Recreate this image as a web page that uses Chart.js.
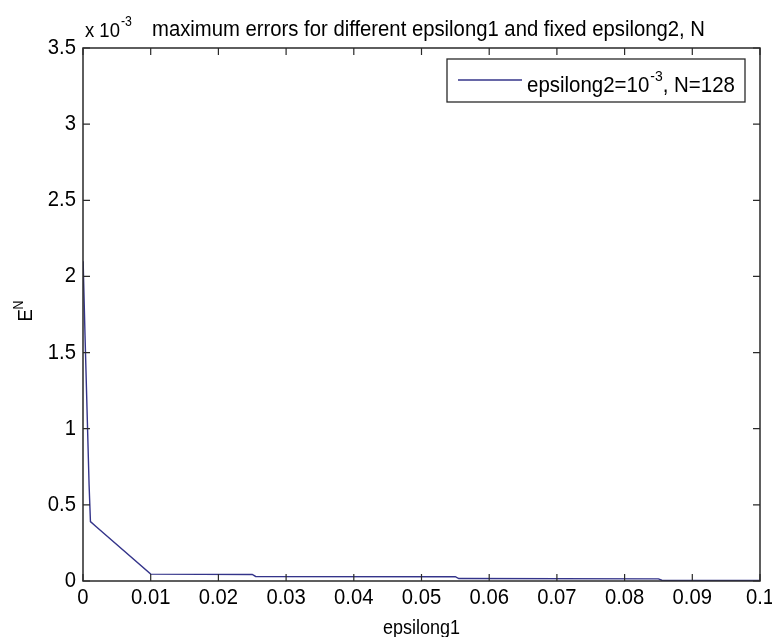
<!DOCTYPE html>
<html>
<head>
<meta charset="utf-8">
<script src="https://cdn.jsdelivr.net/npm/chart.js@4"></script>
<style>
  body { margin: 0; background: #fff; }
  #wrap { width: 772px; height: 637px; }
</style>
</head>
<body>
<div id="wrap"><canvas id="errChart" width="772" height="637"></canvas></div>
<script>
// values (errors are in units of 1e-3)
const epsilong1 = [0.00002, 0.0003, 0.0006, 0.0009, 0.0011, 0.002, 0.01, 0.025, 0.0255, 0.055, 0.0555, 0.085, 0.0855, 0.1];
const maxErrors = [2.1, 1.61, 1.12, 0.63, 0.39, 0.355, 0.045, 0.043, 0.03, 0.028, 0.016, 0.014, 0.005, 0.004];
const xTicks = [0, 0.01, 0.02, 0.03, 0.04, 0.05, 0.06, 0.07, 0.08, 0.09, 0.1];
const yTicks = [0, 0.5, 1, 1.5, 2, 2.5, 3, 3.5];

const FONT = "'Liberation Sans', Arial, sans-serif";
const lineColor = '#34348a';

const points = epsilong1.map((x, i) => ({ x: x, y: maxErrors[i] }));

// matlab text is tall and narrow, so squeeze it horizontally
function narrowText(ctx, txt, x, y, size, align, sx, base) {
  ctx.save();
  ctx.font = size + 'px ' + FONT;
  ctx.textAlign = align;
  ctx.textBaseline = base || 'alphabetic';
  ctx.translate(x, y);
  ctx.scale(sx, 1);
  ctx.fillText(txt, 0, 0);
  const w = ctx.measureText(txt).width * sx;
  ctx.restore();
  return w;
}

const fmt = v => String(Number(v.toFixed(2)));

const matlabFrame = {
  id: 'matlabFrame',
  afterDraw(chart) {
    const ctx = chart.ctx;
    const a = chart.chartArea;
    const xs = chart.scales.x, ys = chart.scales.y;
    ctx.save();
    ctx.strokeStyle = '#2a2a2a';
    ctx.lineWidth = 1.5;
    ctx.strokeRect(a.left, a.top, a.right - a.left, a.bottom - a.top);
    ctx.lineWidth = 1.2;
    ctx.beginPath();
    xTicks.forEach(v => {
      const px = xs.getPixelForValue(v);
      ctx.moveTo(px, a.bottom); ctx.lineTo(px, a.bottom - 7);
      ctx.moveTo(px, a.top); ctx.lineTo(px, a.top + 7);
    });
    yTicks.forEach(v => {
      const py = ys.getPixelForValue(v);
      ctx.moveTo(a.left, py); ctx.lineTo(a.left + 7, py);
      ctx.moveTo(a.right, py); ctx.lineTo(a.right - 7, py);
    });
    ctx.stroke();

    ctx.fillStyle = '#000';
    // tick labels
    xTicks.forEach(v => {
      narrowText(ctx, fmt(v), xs.getPixelForValue(v), a.bottom + 17, 22, 'center', 0.92, 'middle');
    });
    yTicks.forEach(v => {
      narrowText(ctx, fmt(v), a.left - 7, ys.getPixelForValue(v), 22, 'right', 0.92, 'middle');
    });

    // exponent label + title
    let w = narrowText(ctx, 'x 10', 85, 37, 21, 'left', 0.88);
    narrowText(ctx, '-3', 86 + w, 26, 14, 'left', 0.88);
    ctx.font = '22px ' + FONT;
    const title = 'maximum errors for different epsilong1 and fixed epsilong2, N';
    const tsx = 553 / ctx.measureText(title).width;
    narrowText(ctx, title, 152, 36, 22, 'left', tsx);

    // x label
    narrowText(ctx, 'epsilong1', (a.left + a.right) / 2, 634, 20, 'center', 0.9);

    // y label E^N rotated
    ctx.save();
    ctx.translate(32, (a.top + a.bottom) / 2);
    ctx.rotate(-Math.PI / 2);
    narrowText(ctx, 'E', -7, 0, 21, 'left', 0.88);
    narrowText(ctx, 'N', 5, -9, 14, 'left', 0.88);
    ctx.restore();

    // legend
    ctx.fillStyle = '#fff';
    ctx.fillRect(447, 59, 298, 43);
    ctx.strokeStyle = '#2a2a2a';
    ctx.lineWidth = 1.3;
    ctx.strokeRect(447, 59, 298, 43);
    ctx.strokeStyle = lineColor;
    ctx.lineWidth = 1.5;
    ctx.beginPath();
    ctx.moveTo(458, 80); ctx.lineTo(522, 80);
    ctx.stroke();
    ctx.fillStyle = '#000';
    let tx = 527;
    tx += narrowText(ctx, 'epsilong2=10', tx, 92, 22, 'left', 0.93);
    tx += narrowText(ctx, '-3', tx + 1, 81, 15, 'left', 0.93) + 1;
    narrowText(ctx, ', N=128', tx, 92, 22, 'left', 0.93);
    ctx.restore();
  }
};

const config = {
  type: 'line',
  data: {
    datasets: [{
      label: 'epsilong2=10^-3, N=128',
      data: points,
      borderColor: lineColor,
      borderWidth: 1.4,
      pointRadius: 0,
      fill: false,
      tension: 0
    }]
  },
  options: {
    responsive: false,
    animation: false,
    layout: { padding: { left: 0, top: 48, right: 12, bottom: 0 } },
    plugins: {
      legend: { display: false },
      title: { display: false },
      tooltip: { enabled: false }
    },
    scales: {
      x: {
        type: 'linear',
        min: 0,
        max: 0.1,
        afterBuildTicks: s => { s.ticks = xTicks.map(v => ({ value: v })); },
        afterFit: s => { s.height = 56; },
        grid: { display: false, drawTicks: false },
        border: { display: false },
        ticks: { display: false }
      },
      y: {
        min: 0,
        max: 3.5,
        afterBuildTicks: s => { s.ticks = yTicks.map(v => ({ value: v })); },
        afterFit: s => { s.width = 83; },
        grid: { display: false, drawTicks: false },
        border: { display: false },
        ticks: { display: false }
      }
    }
  },
  plugins: [matlabFrame]
};

const errChart = new Chart(document.getElementById('errChart'), config);
</script>
</body>
</html>
